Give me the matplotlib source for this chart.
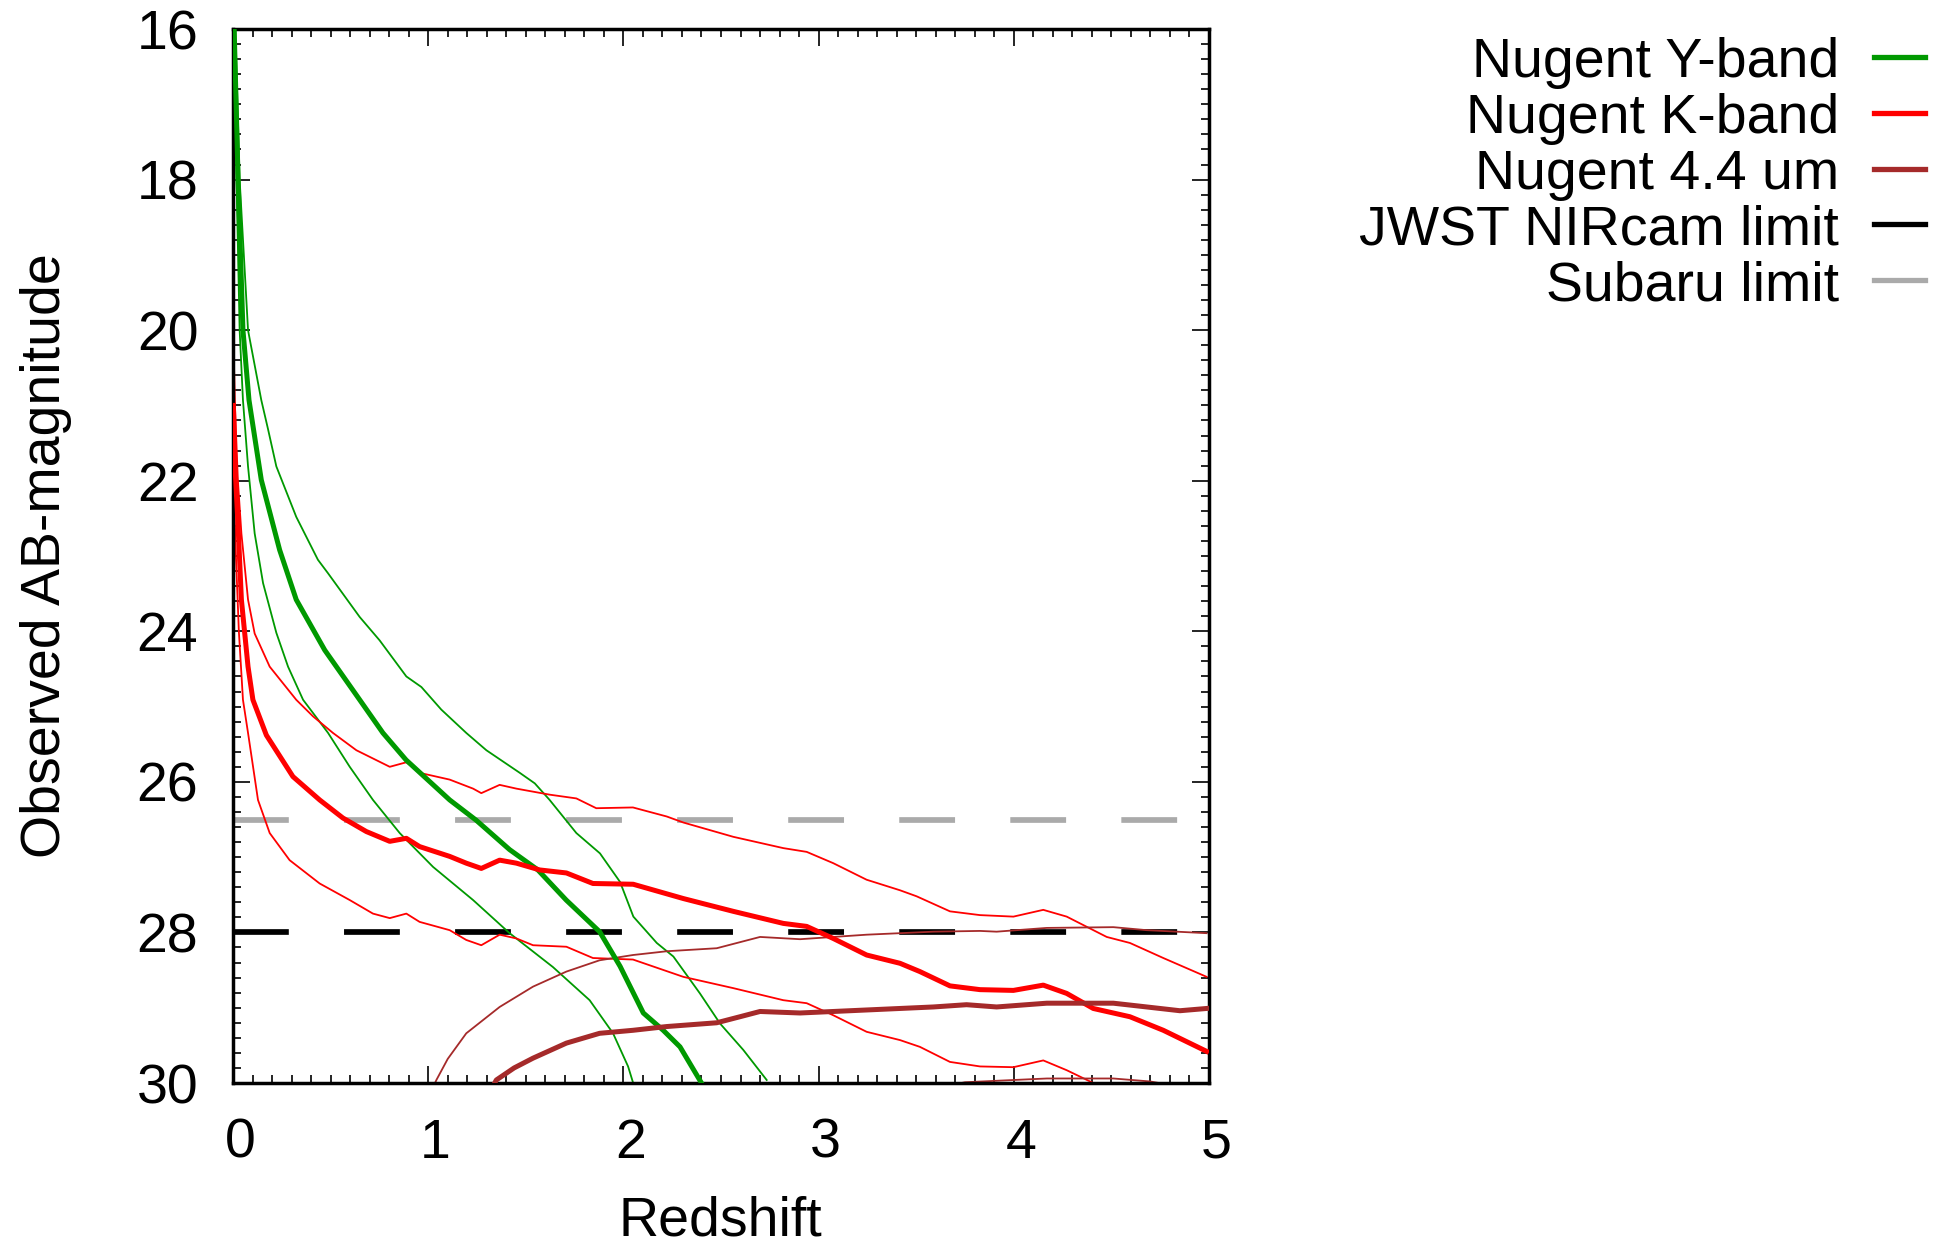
import numpy as np
import matplotlib.pyplot as plt
import matplotlib.transforms as mtransforms
from matplotlib.lines import Line2D
from matplotlib.ticker import MultipleLocator

plt.rcParams['font.family'] = ['Liberation Sans', 'DejaVu Sans']

# ---- data (redshift, AB magnitude) ----
# Nugent Y-band : central curve and +/- envelopes
z_y_mid = [0.006, 0.026, 0.051, 0.082, 0.145, 0.239, 0.324, 0.47, 0.649, 0.768, 0.887,
           1.11, 1.246, 1.417, 1.562, 1.707, 1.878, 1.983, 2.102, 2.204, 2.29, 2.40]
m_y_mid = [16.0, 18.0, 20.0, 20.93, 21.99, 22.92, 23.58, 24.25, 24.91, 25.35, 25.71,
           26.24, 26.51, 26.90, 27.17, 27.57, 27.99, 28.45, 29.07, 29.30, 29.52, 30.0]

z_y_hi = [0.012, 0.034, 0.077, 0.145, 0.179, 0.222, 0.324, 0.435, 0.487, 0.649, 0.751,
          0.888, 0.965, 1.067, 1.195, 1.298, 1.469, 1.546, 1.622, 1.759, 1.88, 1.983,
          2.051, 2.171, 2.256, 2.392, 2.495, 2.614, 2.734]
m_y_hi = [16.0, 18.0, 20.0, 20.93, 21.31, 21.81, 22.48, 23.05, 23.23, 23.81, 24.12,
          24.60, 24.74, 25.04, 25.35, 25.58, 25.88, 26.02, 26.24, 26.68, 26.95, 27.33,
          27.79, 28.14, 28.32, 28.81, 29.21, 29.56, 29.96]

z_y_lo = [0.004, 0.018, 0.034, 0.051, 0.077, 0.111, 0.154, 0.222, 0.282, 0.359, 0.487,
          0.598, 0.717, 0.854, 1.025, 1.23, 1.417, 1.639, 1.827, 1.947, 2.024, 2.05]
m_y_lo = [16.0, 18.0, 20.0, 20.93, 21.81, 22.70, 23.36, 24.02, 24.47, 24.91, 25.35,
          25.80, 26.24, 26.68, 27.13, 27.57, 28.01, 28.46, 28.90, 29.34, 29.78, 30.0]

# Nugent K-band
z_k_mid = [0.002, 0.01, 0.026, 0.043, 0.077, 0.102, 0.171, 0.307, 0.444, 0.563, 0.683,
           0.803, 0.888, 0.956, 1.11, 1.195, 1.272, 1.366, 1.452, 1.571, 1.708, 1.844,
           2.05, 2.307, 2.563, 2.819, 2.939, 3.075, 3.246, 3.417, 3.519, 3.673, 3.827,
           3.998, 4.151, 4.271, 4.407, 4.595, 4.766, 4.988]
m_k_mid = [21.0, 21.8, 22.6, 23.58, 24.47, 24.91, 25.38, 25.93, 26.24, 26.48, 26.66,
           26.79, 26.75, 26.86, 26.99, 27.08, 27.15, 27.04, 27.08, 27.17, 27.21, 27.35,
           27.36, 27.55, 27.72, 27.88, 27.92, 28.08, 28.30, 28.41, 28.52, 28.71, 28.76,
           28.77, 28.70, 28.81, 29.01, 29.12, 29.30, 29.58]

z_k_hi = [0.001, 0.01, 0.025, 0.043, 0.077, 0.111, 0.188, 0.324, 0.41, 0.512, 0.632,
          0.803, 0.888, 0.973, 1.11, 1.23, 1.272, 1.366, 1.452, 1.622, 1.759, 1.861,
          2.049, 2.222, 2.307, 2.563, 2.819, 2.939, 3.075, 3.246, 3.417, 3.502, 3.673,
          3.827, 3.998, 4.151, 4.271, 4.476, 4.595, 4.766, 4.988]
m_k_hi = [20.0, 21.0, 22.0, 22.70, 23.58, 24.03, 24.47, 24.91, 25.13, 25.35, 25.58,
          25.80, 25.74, 25.89, 25.97, 26.09, 26.15, 26.04, 26.09, 26.17, 26.22, 26.35,
          26.34, 26.46, 26.54, 26.73, 26.88, 26.93, 27.08, 27.30, 27.44, 27.52, 27.72,
          27.77, 27.79, 27.70, 27.79, 28.06, 28.14, 28.34, 28.59]

z_k_lo = [0.003, 0.015, 0.03, 0.051, 0.077, 0.128, 0.188, 0.29, 0.444, 0.598, 0.717,
          0.803, 0.888, 0.956, 1.11, 1.195, 1.272, 1.366, 1.452, 1.537, 1.708, 1.844,
          2.049, 2.307, 2.563, 2.819, 2.939, 3.075, 3.246, 3.417, 3.519, 3.673, 3.827,
          3.998, 4.151, 4.271, 4.407, 4.6]
m_k_lo = [22.0, 23.0, 24.0, 24.91, 25.35, 26.24, 26.68, 27.04, 27.35, 27.57, 27.75,
          27.81, 27.75, 27.86, 27.97, 28.10, 28.17, 28.03, 28.08, 28.17, 28.19, 28.34,
          28.36, 28.59, 28.74, 28.90, 28.94, 29.10, 29.32, 29.43, 29.52, 29.72, 29.78,
          29.79, 29.70, 29.83, 30.0, 30.15]

# Nugent 4.4 um
z_w_mid = [1.30, 1.349, 1.44, 1.537, 1.708, 1.878, 2.049, 2.222, 2.478, 2.597, 2.70,
           2.905, 3.246, 3.588, 3.758, 3.912, 4.169, 4.51, 4.647, 4.851, 4.988]
m_w_mid = [30.2, 29.96, 29.80, 29.67, 29.47, 29.34, 29.30, 29.25, 29.20, 29.12, 29.05,
           29.07, 29.03, 28.99, 28.96, 28.99, 28.94, 28.94, 28.98, 29.04, 29.01]

z_w_hi = [1.00, 1.042, 1.10, 1.195, 1.366, 1.537, 1.708, 1.878, 2.049, 2.222, 2.478,
          2.70, 2.905, 3.246, 3.588, 3.827, 3.912, 4.169, 4.51, 4.681, 4.988]
m_w_hi = [30.2, 29.96, 29.68, 29.34, 28.99, 28.72, 28.52, 28.37, 28.30, 28.25, 28.21,
          28.06, 28.09, 28.03, 27.99, 27.98, 27.99, 27.94, 27.93, 27.97, 28.01]

z_w_lo = [3.55, 3.75, 4.0, 4.17, 4.51, 4.70, 4.85]
m_w_lo = [30.1, 29.99, 29.96, 29.94, 29.94, 29.98, 30.05]

# detection limits
jwst_limit = 28.0
subaru_limit = 26.5

legend_labels = ["Nugent Y-band", "Nugent K-band", "Nugent 4.4 um",
                 "JWST NIRcam limit", "Subaru limit"]

# ---- styles ----
c_green = "#009900"
c_red = "#ff0000"
c_brown = "#a52a2a"
c_gray = "#aaaaaa"
lw_thick = 3.6
lw_thin = 1.3
lw_dash = 4.1
fs = 40

W, H = 1944, 1246
fig = plt.figure(figsize=(W / 100, H / 100), dpi=100)
ax = fig.add_axes([233 / W, 1 - 1083 / H, (1209 - 233) / W, (1083 - 29) / H])

# limits (dashed) :
z_full = [0, 5]
ax.plot(z_full, [jwst_limit] * 2, color="k", lw=lw_dash, dashes=(9.8, 9.7), zorder=1)
ax.plot(z_full, [subaru_limit] * 2, color=c_gray, lw=lw_dash, dashes=(9.8, 9.7), zorder=1)

# curves :
for z, m in [(z_y_hi, m_y_hi), (z_y_lo, m_y_lo)]:
    ax.plot(z, m, color=c_green, lw=lw_thin, zorder=2)
ax.plot(z_y_mid, m_y_mid, color=c_green, lw=lw_thick, zorder=3)

for z, m in [(z_k_hi, m_k_hi), (z_k_lo, m_k_lo)]:
    ax.plot(z, m, color=c_red, lw=lw_thin, zorder=2)
ax.plot(z_k_mid, m_k_mid, color=c_red, lw=lw_thick, zorder=3)

for z, m in [(z_w_hi, m_w_hi), (z_w_lo, m_w_lo)]:
    ax.plot(z, m, color=c_brown, lw=lw_thin, zorder=2)
ax.plot(z_w_mid, m_w_mid, color=c_brown, lw=lw_thick, zorder=3)

# axes :
ax.set_xlim(0, 5)
ax.set_ylim(30, 16)
ax.set_xticks([0, 1, 2, 3, 4, 5])
ax.set_yticks([16, 18, 20, 22, 24, 26, 28, 30])
ax.xaxis.set_minor_locator(MultipleLocator(0.1))
ax.yaxis.set_minor_locator(MultipleLocator(0.2))
ax.tick_params(which="both", direction="in", top=True, right=True,
               labelsize=fs, width=1.2, color="k")
ax.tick_params(which="major", length=12, pad=25)
ax.tick_params(which="minor", length=6)
for sp in ax.spines.values():
    sp.set_linewidth(2.5)

offset = mtransforms.ScaledTranslation(7 / 100, 0, fig.dpi_scale_trans)
for lab in ax.get_xticklabels():
    lab.set_transform(lab.get_transform() + offset)

# axis labels :
fig.text(720 / W, 1 - 1236 / H, "Redshift", fontsize=fs, ha="center", va="baseline")
fig.text(60 / W, 1 - 556 / H, "Observed AB-magnitude", fontsize=fs, rotation=90,
         rotation_mode="anchor", ha="center", va="baseline")

# key (right-aligned text, sample to the right) :
key_colors = [c_green, c_red, c_brown, "k", c_gray]
for i, (lab, col) in enumerate(zip(legend_labels, key_colors)):
    y_row = 57 + 55.8 * i
    fig.text(1839 / W, 1 - (y_row + 20) / H, lab, fontsize=fs, ha="right", va="baseline")
    fig.add_artist(Line2D([1874 / W, 1925 / W], [1 - y_row / H] * 2,
                          color=col, lw=3.8, transform=fig.transFigure))

fig.savefig("out.png", dpi=100)
